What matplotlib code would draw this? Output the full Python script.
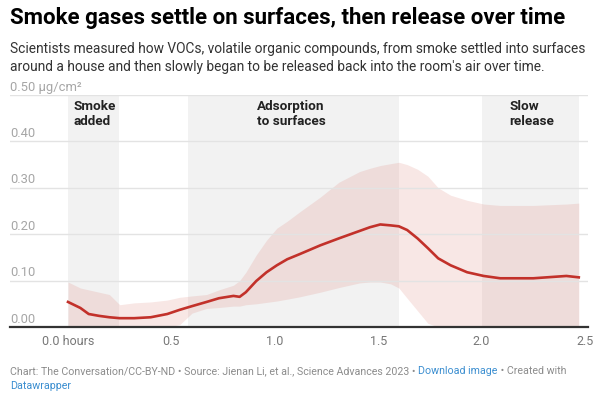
import matplotlib
matplotlib.use("Agg")
import matplotlib.pyplot as plt
import matplotlib.transforms as mtrans

plt.rcParams['font.family'] = ['Roboto', 'DejaVu Sans']

# ---- data ----
hours = [0.00, 0.06, 0.10, 0.15, 0.20, 0.25, 0.32, 0.40, 0.48, 0.54, 0.60, 0.67,
         0.73, 0.80, 0.83, 0.86, 0.91, 0.96, 1.01, 1.06, 1.12, 1.22, 1.31, 1.41,
         1.46, 1.51, 1.56, 1.60, 1.64, 1.69, 1.74, 1.79, 1.85, 1.93, 2.01, 2.09,
         2.25, 2.41, 2.47]
mean_voc = [0.054, 0.041, 0.028, 0.024, 0.021, 0.019, 0.019, 0.021, 0.028, 0.037,
            0.045, 0.054, 0.062, 0.067, 0.065, 0.075, 0.099, 0.118, 0.133, 0.146,
            0.157, 0.176, 0.191, 0.207, 0.215, 0.221, 0.219, 0.217, 0.209, 0.191,
            0.170, 0.148, 0.133, 0.118, 0.110, 0.105, 0.105, 0.110, 0.107]
upper_voc = [0.097, 0.084, 0.080, 0.075, 0.070, 0.048, 0.052, 0.054, 0.058, 0.064,
             0.067, 0.070, 0.080, 0.090, 0.100, 0.118, 0.155, 0.187, 0.213, 0.228,
             0.248, 0.280, 0.312, 0.335, 0.342, 0.348, 0.352, 0.355, 0.350, 0.340,
             0.325, 0.300, 0.284, 0.273, 0.265, 0.262, 0.262, 0.265, 0.267]
lower_voc = [0.0, 0.0, 0.0, 0.0, 0.0, 0.0, 0.0, 0.0, 0.0, 0.005,
             0.030, 0.040, 0.042, 0.045, 0.045, 0.048, 0.050, 0.053, 0.056, 0.060,
             0.065, 0.075, 0.085, 0.095, 0.097, 0.097, 0.093, 0.084, 0.062, 0.035,
             0.008, 0.0, 0.0, 0.0, 0.0, 0.0, 0.0, 0.0, 0.0]

phases = ["Smoke\nadded", "Adsorption\nto surfaces", "Slow\nrelease"]
phase_start = [0.0, 0.58, 2.0]
phase_end = [0.247, 1.60, 2.47]

yticks = [0.0, 0.1, 0.2, 0.3, 0.4, 0.5]
ytick_labels = ["0.00", "0.10", "0.20", "0.30", "0.40", "0.50 μg/cm²"]
xticks = [0.0, 0.5, 1.0, 1.5, 2.0, 2.5]
xtick_labels = ["0.0 hours", "0.5", "1.0", "1.5", "2.0", "2.5"]

title = "Smoke gases settle on surfaces, then release over time"
subtitle = ("Scientists measured how VOCs, volatile organic compounds, from smoke settled into surfaces\n"
            "around a house and then slowly began to be released back into the room's air over time.")

W, H = 600, 395
fig = plt.figure(figsize=(W / 100, H / 100), dpi=100)
fig.patch.set_facecolor("white")

def fx(x):
    return x / W

def fy(y):
    return 1 - y / H

ax = fig.add_axes([fx(10), fy(327), (588 - 10) / W, (327 - 95) / H])
ax.set_xlim(-0.2805, 2.5145)
ax.set_ylim(0, 0.5)

# phase shading
for s, e in zip(phase_start, phase_end):
    ax.axvspan(s, e, color="#f2f2f2", zorder=0, lw=0)

# band
ax.fill_between(hours, lower_voc, upper_voc, color="#dc7a70", alpha=0.18, lw=0, zorder=1)

# gridlines
for v in yticks[1:]:
    ax.axhline(v, color="#e3e3e3", lw=1, zorder=2)
ax.axhline(0, color="#333333", lw=1.6, zorder=4, clip_on=False)

# mean line
ax.plot(hours, mean_voc, color="#c2312a", lw=1.9, zorder=3, solid_joinstyle="round")

for sp in ax.spines.values():
    sp.set_visible(False)
ax.set_xticks([])
ax.set_yticks([])

# y labels above gridlines
for v, lab in zip(yticks, ytick_labels):
    tr = mtrans.blended_transform_factory(ax.transAxes, ax.transData) + \
        mtrans.ScaledTranslation(0, 1 / 72, fig.dpi_scale_trans)
    ax.text(0, v, lab, transform=tr, ha="left", va="bottom", fontsize=9.4,
            color="#a6a6a6", zorder=5)

# x labels
for v, lab in zip(xticks, xtick_labels):
    tr = mtrans.blended_transform_factory(ax.transData, ax.transAxes) + \
        mtrans.ScaledTranslation(0, -6 / 72, fig.dpi_scale_trans)
    ax.text(v, 0, lab, transform=tr, ha="center", va="top", fontsize=9,
            color="#777777", clip_on=False)

# phase labels
phase_label_x = [0.025, 0.915, 2.135]
for px_, lab in zip(phase_label_x, phases):
    ax.text(px_, 0.489, lab, ha="left", va="top", fontsize=9.7, fontweight="bold",
            color="#222222", linespacing=1.15, zorder=6)

# title / subtitle
fig.text(fx(10), fy(24), title, ha="left", va="baseline", fontsize=16,
         fontweight="bold", color="#000000")
fig.text(fx(10), fy(70.5), subtitle, ha="left", va="baseline", fontsize=9.95,
         color="#333333", linespacing=1.33)

# footer with coloured pieces
fig.canvas.draw()
renderer = fig.canvas.get_renderer()
pieces = [("Chart: The Conversation/CC-BY-ND • Source: Jienan Li, et al., Science Advances 2023 • ", "#8c8c8c"),
          ("Download image", "#3b8ed0"),
          (" • Created with", "#8c8c8c")]
xpos = 10
for txt, col in pieces:
    t = fig.text(fx(xpos), fy(374), txt, ha="left", va="baseline", fontsize=7.7, color=col)
    bb = t.get_window_extent(renderer)
    xpos += bb.width
fig.text(fx(10), fy(389), "Datawrapper", ha="left", va="baseline", fontsize=7.7, color="#3b8ed0")

fig.savefig("out.png", dpi=100, facecolor="white")
